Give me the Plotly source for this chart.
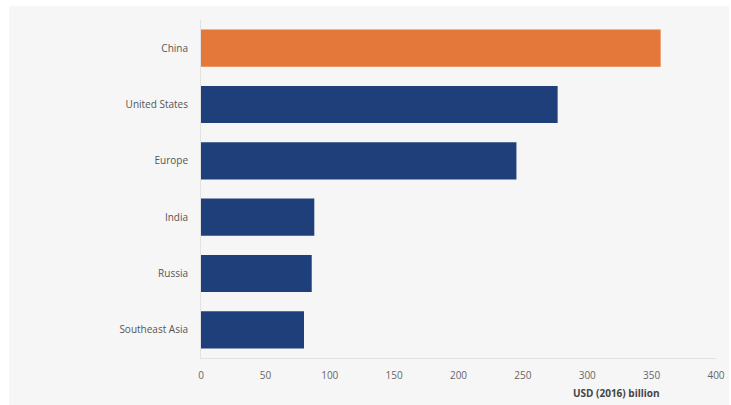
import plotly.graph_objects as go

regions = ["China", "United States", "Europe", "India", "Russia", "Southeast Asia"]
values = [357, 277, 245, 88, 86, 80]
highlight = "China"

orange = "#E4773A"
blue = "#1F3F7B"
colors = [orange if r == highlight else blue for r in regions]

fig = go.Figure(
    go.Bar(
        x=values,
        y=regions,
        orientation="h",
        marker=dict(color=colors, line=dict(width=0)),
        hoverinfo="x+y",
    )
)

fig.update_layout(
    width=731,
    height=405,
    margin=dict(l=201, r=15, t=20, b=47, autoexpand=False),
    paper_bgcolor="white",
    plot_bgcolor="#F6F6F6",
    bargap=0.34,
    showlegend=False,
    font=dict(family="Open Sans, sans-serif", size=10, color="#555555"),
    shapes=[
        dict(
            type="rect", xref="paper", yref="paper", layer="below",
            x0=-192 / 515, x1=1 + 13 / 515, y0=-47 / 338, y1=1 + 14 / 338,
            fillcolor="#F6F6F6", line=dict(width=0),
        )
    ],
)

fig.update_xaxes(
    range=[0, 400],
    tickvals=[0, 50, 100, 150, 200, 250, 300, 350, 400],
    showgrid=False,
    zeroline=False,
    showline=True,
    linecolor="#E2E2E2",
    linewidth=1,
    ticks="",
    automargin=False,
    ticklabelstandoff=8,
    tickfont=dict(size=10, color="#666666"),
)

fig.update_yaxes(
    categoryorder="array",
    categoryarray=regions[::-1],
    showgrid=False,
    zeroline=False,
    showline=True,
    linecolor="#E2E2E2",
    linewidth=1,
    ticks="",
    automargin=False,
    ticklabelstandoff=10,
    tickfont=dict(size=10, color="#555555"),
)

fig.add_annotation(
    text="<b>USD (2016) billion</b>",
    xref="x", yref="paper",
    x=323, y=-0.104,
    showarrow=False,
    xanchor="center", yanchor="middle",
    font=dict(size=10, color="#444444"),
)

fig.write_html("out.html")
